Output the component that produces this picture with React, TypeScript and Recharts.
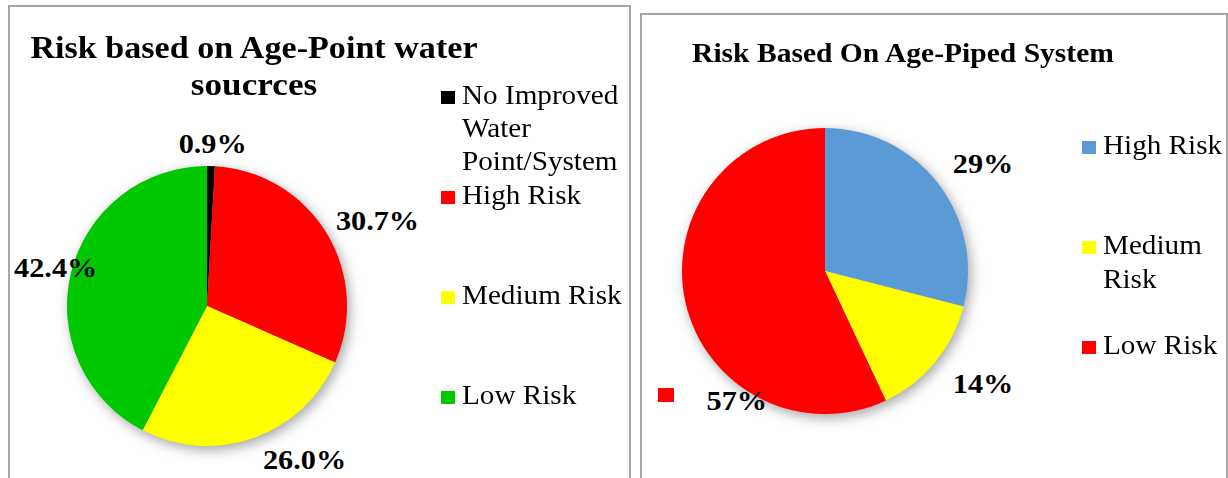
import React from 'react';
import { PieChart, Pie, Cell } from 'recharts';

// point water sources (left chart)
const pointNames = ['No Improved Water Point/System', 'High Risk', 'Medium Risk', 'Low Risk'];
const pointShares = [0.9, 30.7, 26.0, 42.4];
const pointColors = ['#000000', '#FF0000', '#FFFF00', '#00C800'];

// piped systems (right chart)
const pipedNames = ['High Risk', 'Medium Risk', 'Low Risk'];
const pipedShares = [29, 14, 57];
const pipedColors = ['#5B9BD5', '#FFFF00', '#FF0000'];

const pointData = pointNames.map((name, i) => ({ name, value: pointShares[i] }));
const pipedData = pipedNames.map((name, i) => ({ name, value: pipedShares[i] }));
const total = (arr: number[]) => [{ name: 'all', value: arr.reduce((a, b) => a + b, 0) }];

const FONT = '"Liberation Serif", "Times New Roman", serif';
const STRETCH = 1.08;
const RADIAN = Math.PI / 180;

type LabelOpts = { rx: number; ry: number; digits: number; shifts: Record<string, [number, number]> };

const makeLabel = (opts: LabelOpts) => (props: any) => {
  const { cx, cy, midAngle, name, value } = props;
  const [sx, sy] = opts.shifts[name] ?? [0, 0];
  const x = cx + opts.rx * Math.cos(-midAngle * RADIAN) + sx;
  const y = cy + opts.ry * Math.sin(-midAngle * RADIAN) + sy;
  return (
    <text
      x={x}
      y={y}
      textAnchor="middle"
      dominantBaseline="central"
      fontFamily={FONT}
      fontWeight="bold"
      fontSize={28}
      fill="#000"
      transform={`translate(${x} ${y}) scale(${STRETCH} 1) translate(${-x} ${-y})`}
    >
      {Number(value).toFixed(opts.digits)}%
    </text>
  );
};

const panel = (left: number, top: number, width: number): React.CSSProperties => ({
  position: 'absolute',
  left,
  top,
  width,
  height: 500,
  border: '2px solid #a6a6a6',
  boxSizing: 'border-box',
});

function LegendItem({ label, color, left, top, width, lineHeight }: any) {
  return (
    <div style={{ position: 'absolute', left, top }}>
      <div style={{ position: 'absolute', left: 0, top: lineHeight - 21, width: 14, height: 13, background: color }} />
      <div
        style={{
          position: 'absolute',
          left: 21,
          top: 0,
          width,
          fontSize: 27,
          lineHeight: `${lineHeight}px`,
          transform: `scaleX(${STRETCH})`,
          transformOrigin: 'left top',
          color: '#000',
        }}
      >
        {label}
      </div>
    </div>
  );
}

const pointLegendTops = [79, 179, 279, 379];
const pipedLegendTops = [128, 228, 328];

export default function App() {
  return (
    <div
      style={{
        position: 'absolute',
        left: 0,
        top: 0,
        width: 1228,
        height: 478,
        overflow: 'hidden',
        background: '#fff',
        fontFamily: FONT,
      }}
    >
      <style>{`.pie-shadow { filter: blur(4px); }`}</style>
      <div style={panel(8, 5, 623)} />
      <div style={panel(640, 13, 588)} />

      <div style={{ position: 'absolute', left: 0, top: 0 }}>
        <PieChart width={632} height={478} margin={{ top: 0, right: 0, bottom: 0, left: 0 }}>
          <Pie
            data={total(pointShares)}
            dataKey="value"
            cx={210}
            cy={310}
            outerRadius={140}
            fill="rgba(0,0,0,0.35)"
            stroke="none"
            className="pie-shadow"
            label={false}
            isAnimationActive={false}
          />
          <Pie
            data={pointData}
            dataKey="value"
            nameKey="name"
            cx={207}
            cy={306}
            outerRadius={140}
            startAngle={90}
            endAngle={-270}
            stroke="none"
            labelLine={false}
            label={makeLabel({ rx: 200, ry: 163, digits: 1, shifts: { 'Medium Risk': [31, 0], 'Low Risk': [43, 0] } })}
            isAnimationActive={false}
          >
            {pointData.map((d, i) => (
              <Cell key={d.name} fill={pointColors[i]} />
            ))}
          </Pie>
        </PieChart>
      </div>

      <div style={{ position: 'absolute', left: 640, top: 0 }}>
        <PieChart width={588} height={478} margin={{ top: 0, right: 0, bottom: 0, left: 0 }}>
          <Pie
            data={total(pipedShares)}
            dataKey="value"
            cx={188}
            cy={275}
            outerRadius={143}
            fill="rgba(0,0,0,0.35)"
            stroke="none"
            className="pie-shadow"
            label={false}
            isAnimationActive={false}
          />
          <Pie
            data={pipedData}
            dataKey="value"
            nameKey="name"
            cx={185}
            cy={271}
            outerRadius={143}
            startAngle={90}
            endAngle={-270}
            stroke="none"
            labelLine={false}
            label={makeLabel({ rx: 200, ry: 176, digits: 0, shifts: { 'Medium Risk': [4, 0], 'Low Risk': [107, 91] } })}
            isAnimationActive={false}
          >
            {pipedData.map((d, i) => (
              <Cell key={d.name} fill={pipedColors[i]} />
            ))}
          </Pie>
        </PieChart>
      </div>

      {/* titles */}
      <div
        style={{
          position: 'absolute',
          left: 14,
          top: 29,
          width: 480,
          textAlign: 'center',
          fontWeight: 'bold',
          fontSize: 31,
          lineHeight: '37px',
          transform: 'scaleX(1.1)',
          transformOrigin: 'center top',
        }}
      >
        Risk based on Age-Point water
        <br />
        <span style={{ fontSize: 32 }}>soucrces</span>
      </div>
      <div
        style={{
          position: 'absolute',
          left: 663,
          top: 37,
          width: 480,
          textAlign: 'center',
          fontWeight: 'bold',
          fontSize: 28,
          lineHeight: '32px',
          transform: 'scaleX(1.055)',
          transformOrigin: 'center top',
          whiteSpace: 'nowrap',
        }}
      >
        Risk Based On Age-Piped System
      </div>

      {/* legends */}
      {pointNames.map((n, i) => (
        <LegendItem key={n} label={n} color={pointColors[i]} left={441} top={pointLegendTops[i]} width={170} lineHeight={33} />
      ))}
      {pipedNames.map((n, i) => (
        <LegendItem key={n} label={n} color={pipedColors[i]} left={1082} top={pipedLegendTops[i]} width={125} lineHeight={34} />
      ))}

      {/* stray legend key next to the 57% label */}
      <div style={{ position: 'absolute', left: 658, top: 388, width: 16, height: 14, background: pipedColors[2] }} />
    </div>
  );
}
